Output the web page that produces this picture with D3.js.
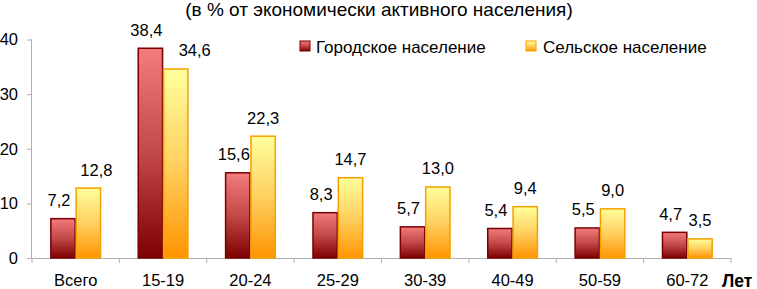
<!DOCTYPE html>
<html><head><meta charset="utf-8">
<script src="https://cdn.jsdelivr.net/npm/d3@7"></script>
<style>body{margin:0;background:#fff}svg{display:block;font-family:Arial,"Liberation Sans",sans-serif}</style>
</head><body><svg id="c" width="757" height="289"></svg>
<script>
const categories = ["Всего","15-19","20-24","25-29","30-39","40-49","50-59","60-72"];
const urban = [7.2,38.4,15.6,8.3,5.7,5.4,5.5,4.7];
const rural = [12.8,34.6,22.3,14.7,13.0,9.4,9.0,3.5];
const seriesNames = ["Городское население","Сельское население"];
const yTicks = [0,10,20,30,40];
const title = "(в % от экономически активного населения)";
const axisUnit = "Лет";

const svg = d3.select("#c");
const FF = "Arial,'Liberation Sans',sans-serif";
const x0 = 32, x1 = 731, yTop = 39.5, yBot = 258;
const x = d3.scaleBand().domain(categories).range([x0,x1]).paddingInner(0.42).paddingOuter(0.21);
const xs = d3.scaleBand().domain([0,1]).range([0,x.bandwidth()]);
const y = d3.scaleLinear().domain([0,40]).range([yBot,yTop]);

const defs = svg.append("defs");
const g1 = defs.append("linearGradient").attr("id","gr").attr("x1",0).attr("y1",0).attr("x2",0).attr("y2",1);
g1.append("stop").attr("offset","0").attr("stop-color","#f47c7c");
g1.append("stop").attr("offset","0.5").attr("stop-color","#c34848");
g1.append("stop").attr("offset","1").attr("stop-color","#7e0000");
const g2 = defs.append("linearGradient").attr("id","gy").attr("x1",0).attr("y1",0).attr("x2",0).attr("y2",1);
g2.append("stop").attr("offset","0").attr("stop-color","#ffff9c");
g2.append("stop").attr("offset","0.5").attr("stop-color","#ffd060");
g2.append("stop").attr("offset","1").attr("stop-color","#ff9400");
const fills = ["url(#gr)","url(#gy)"];
const strokes = ["#7a0000","#f5a000"];

// title
svg.append("text").attr("x",379).attr("y",15.5).attr("text-anchor","middle")
  .attr("font-size",19).attr("fill","#000").text(title);

// axes
const axisColor = "#b0b0b0";
const ya = svg.append("g").attr("transform",`translate(${x0},0)`)
  .call(d3.axisLeft(y).tickValues(yTicks).tickSize(5).tickPadding(9));
ya.select(".domain").attr("stroke",axisColor).attr("d",`M-0.5,${yTop}V${yBot}`);
ya.selectAll(".tick line").attr("stroke",axisColor);
ya.selectAll(".tick text").attr("font-size",16.5).attr("fill","#000").attr("font-family",FF);

const xa = svg.append("g").attr("transform",`translate(0,${yBot})`)
  .call(d3.axisBottom(x).tickSize(0).tickPadding(16));
xa.select(".domain").attr("stroke",axisColor).attr("d",`M${x0},0.5H${x1}`);
xa.selectAll(".tick text").attr("font-size",16.5).attr("fill","#000").attr("font-family",FF);
// category boundary ticks
const step = x.step();
svg.append("g").selectAll("line").data(d3.range(categories.length+1)).join("line")
  .attr("x1",i=>x0+i*step).attr("x2",i=>x0+i*step).attr("y1",yBot).attr("y2",yBot+5)
  .attr("stroke",axisColor);

svg.append("text").attr("x",722).attr("y",286.5).attr("font-size",17.5).attr("font-weight","bold").text(axisUnit);

// bars
const series = [urban, rural];
const labelNudge = {"0-1":8,"1-1":19};
series.forEach((vals,si)=>{
  const g = svg.append("g");
  g.selectAll("rect").data(vals).join("rect")
    .attr("x",(d,i)=>x(categories[i])+xs(si)+0.5)
    .attr("y",d=>y(d))
    .attr("width",xs.bandwidth()-1)
    .attr("height",d=>yBot-y(d))
    .attr("fill",fills[si]).attr("stroke",strokes[si]).attr("stroke-width",1.5);
  g.selectAll("text").data(vals).join("text")
    .attr("x",(d,i)=>x(categories[i])+xs(si)+xs.bandwidth()/2+(si===0?-4:0)+(labelNudge[i+"-"+si]||0))
    .attr("y",d=>y(d)-12.5)
    .attr("text-anchor","middle").attr("font-size",16.5).attr("fill","#000")
    .text(d=>d3.format(".1f")(d).replace(".",","));
});

// legend
const legX = [300,526], legTextX = [316,543];
seriesNames.forEach((n,i)=>{
  svg.append("rect").attr("x",legX[i]).attr("y",41).attr("width",10).attr("height",10)
    .attr("fill",fills[i]).attr("stroke",strokes[i]).attr("stroke-width",1);
  svg.append("text").attr("x",legTextX[i]).attr("y",52.5).attr("font-size",17).text(n);
});
</script></body></html>
